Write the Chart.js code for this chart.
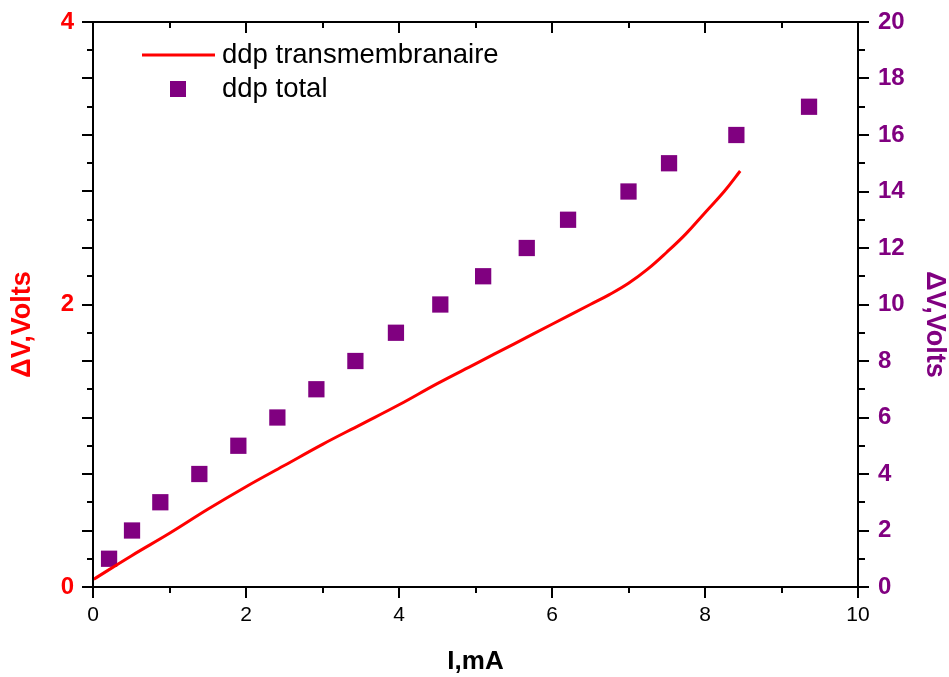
<!DOCTYPE html>
<html>
<head>
<meta charset="utf-8">
<title>ddp</title>
<script src="https://cdn.jsdelivr.net/npm/chart.js@4.4.1/dist/chart.umd.min.js"></script>
<style>
  html, body { margin: 0; padding: 0; background: #fff; }
  canvas { display: block; }
</style>
</head>
<body>
<canvas id="graph" width="949" height="677"></canvas>
<script>
// courbe continue : ddp transmembranaire (axe gauche)
const courantLigne = [0.01, 0.5, 1.0, 1.5, 2.0, 2.5, 3.0, 3.5, 4.0, 4.5, 5.0, 5.5, 6.0, 6.5, 6.75, 7.0, 7.25, 7.5, 7.75, 8.0, 8.25, 8.46];
const ddpTrans = [0.055, 0.22, 0.38, 0.55, 0.71, 0.86, 1.01, 1.15, 1.29, 1.44, 1.58, 1.72, 1.86, 2.00, 2.07, 2.15, 2.25, 2.37, 2.50, 2.65, 2.80, 2.945];

// points carres : ddp total (axe droit)
const courantPoints = [0.21, 0.51, 0.88, 1.39, 1.90, 2.41, 2.92, 3.43, 3.96, 4.54, 5.10, 5.67, 6.21, 7.00, 7.53, 8.41, 9.36];
const ddpTotal = [1, 2, 3, 4, 5, 6, 7, 8, 9, 10, 11, 12, 13, 14, 15, 16, 17];

const ROUGE = '#ff0000';
const VIOLET = '#800080';
const POLICE = '"Liberation Sans", Arial, Helvetica, sans-serif';

// cadre, graduations, titres des axes verticaux et legende
const decorAxes = {
  id: 'decorAxes',
  afterDraw(chart) {
    const { ctx, chartArea: a, scales } = chart;
    const sx = scales.x, yg = scales.y, yd = scales.y2;
    ctx.save();
    ctx.strokeStyle = '#000';
    ctx.lineWidth = 2;
    ctx.beginPath();
    ctx.rect(a.left, a.top, a.right - a.left, a.bottom - a.top);
    for (let v = 0; v <= 10; v++) {
      const px = Math.round(sx.getPixelForValue(v));
      const len = v % 2 === 0 ? 11 : 6;
      ctx.moveTo(px, a.bottom); ctx.lineTo(px, a.bottom + len);
      ctx.moveTo(px, a.top); ctx.lineTo(px, a.top + len);
    }
    for (let i = 0; i <= 20; i++) {
      const py = Math.round(yg.getPixelForValue(i * 0.2));
      const len = i % 2 === 0 ? 11 : 6;
      ctx.moveTo(a.left, py); ctx.lineTo(a.left - len, py);
    }
    for (let v = 0; v <= 20; v++) {
      const py = Math.round(yd.getPixelForValue(v));
      const len = v % 2 === 0 ? 11 : 7;
      ctx.moveTo(a.right, py); ctx.lineTo(a.right + len, py);
    }
    ctx.stroke();

    // titres des axes Y
    const milieu = (a.top + a.bottom) / 2 + 20;
    ctx.font = 'bold 27px ' + POLICE;
    ctx.textAlign = 'center';
    ctx.textBaseline = 'middle';
    ctx.save();
    ctx.translate(23, milieu);
    ctx.rotate(-Math.PI / 2);
    ctx.fillStyle = ROUGE;
    ctx.fillText(yg.options.title.text, 0, 0);
    ctx.restore();
    ctx.save();
    ctx.translate(a.right + 76, milieu);
    ctx.rotate(Math.PI / 2);
    ctx.fillStyle = VIOLET;
    ctx.fillText(yd.options.title.text, 0, 0);
    ctx.restore();

    // legende
    const dsLigne = chart.data.datasets[0];
    const dsPoints = chart.data.datasets[1];
    const lx = a.left + 49, ly1 = a.top + 33, ly2 = a.top + 67;
    ctx.strokeStyle = dsLigne.borderColor;
    ctx.lineWidth = 3;
    ctx.beginPath();
    ctx.moveTo(lx, ly1); ctx.lineTo(lx + 73, ly1);
    ctx.stroke();
    ctx.fillStyle = dsPoints.backgroundColor;
    ctx.fillRect(lx + 28, ly2 - 8, 16, 16);
    ctx.fillStyle = '#000';
    ctx.font = '27.5px ' + POLICE;
    ctx.textAlign = 'left';
    ctx.fillText(dsLigne.label, lx + 80, ly1);
    ctx.fillText(dsPoints.label, lx + 80, ly2);
    ctx.restore();
  }
};

const ctxGraph = document.getElementById('graph');
new Chart(ctxGraph, {
  type: 'scatter',
  data: {
    datasets: [
      {
        label: 'ddp transmembranaire',
        data: courantLigne.map((v, i) => ({ x: v, y: ddpTrans[i] })),
        yAxisID: 'y',
        showLine: true,
        borderColor: ROUGE,
        borderWidth: 3,
        pointRadius: 0,
        tension: 0.4,
        fill: false
      },
      {
        label: 'ddp total',
        data: courantPoints.map((v, i) => ({ x: v, y: ddpTotal[i] })),
        yAxisID: 'y2',
        showLine: false,
        pointStyle: 'rect',
        pointRadius: 11.5,
        borderWidth: 0,
        backgroundColor: VIOLET,
        borderColor: VIOLET
      }
    ]
  },
  options: {
    responsive: false,
    animation: false,
    layout: { padding: { top: 22, left: 0, right: 0, bottom: 0 } },
    plugins: {
      legend: { display: false },
      tooltip: { enabled: false }
    },
    scales: {
      // les graduations sont tracees par decorAxes ; tickLength ne sert qu'a decaler les etiquettes
      x: {
        type: 'linear',
        position: 'bottom',
        min: 0,
        max: 10,
        grid: { display: false, drawTicks: true, tickLength: 16 },
        border: { display: false },
        ticks: {
          stepSize: 2,
          padding: 0,
          color: '#000',
          font: { family: POLICE, size: 21 }
        },
        title: {
          display: true,
          text: 'I,mA',
          color: '#000',
          padding: 0,
          font: { family: POLICE, size: 26, weight: 'bold' }
        },
        afterFit(scale) { scale.height = 90; }
      },
      y: {
        type: 'linear',
        position: 'left',
        min: 0,
        max: 4,
        grid: { display: false, drawTicks: true, tickLength: 19 },
        border: { display: false },
        ticks: {
          stepSize: 2,
          padding: 0,
          color: ROUGE,
          font: { family: POLICE, size: 24, weight: 'bold' }
        },
        title: { display: false, text: '\u0394V,Volts' },
        afterFit(scale) { scale.width = 93; }
      },
      y2: {
        type: 'linear',
        position: 'right',
        min: 0,
        max: 20,
        grid: { display: false, drawTicks: true, tickLength: 20 },
        border: { display: false },
        ticks: {
          stepSize: 2,
          padding: 0,
          color: VIOLET,
          font: { family: POLICE, size: 24, weight: 'bold' }
        },
        title: { display: false, text: '\u0394V,Volts' },
        afterFit(scale) { scale.width = 91; }
      }
    }
  },
  plugins: [decorAxes]
});
</script>
</body>
</html>
